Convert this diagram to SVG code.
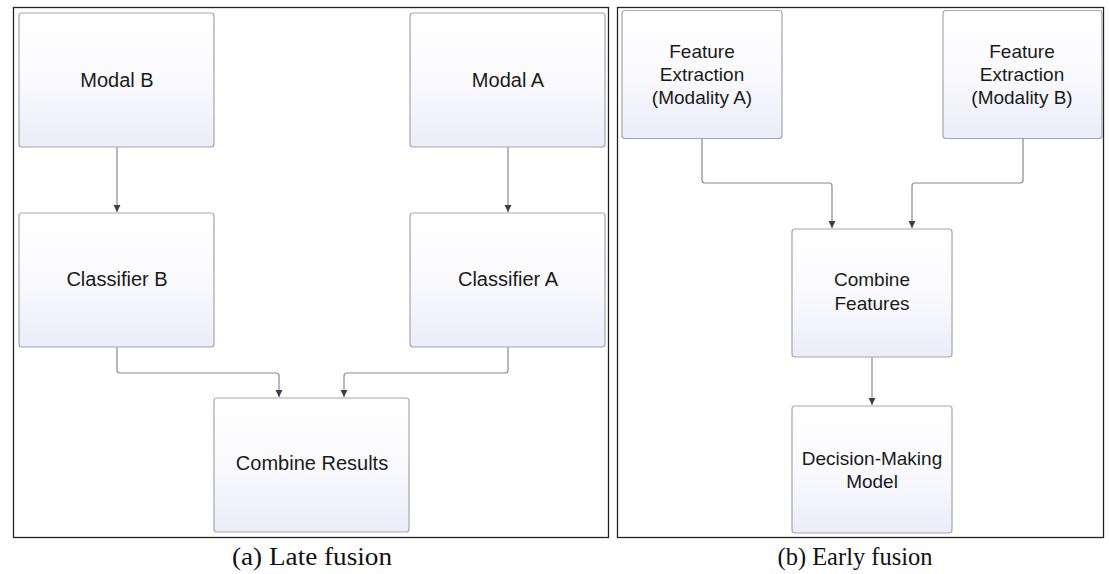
<svg xmlns="http://www.w3.org/2000/svg" width="1109" height="574" viewBox="0 0 1109 574">
<style>
.frame{fill:none;stroke:#222;stroke-width:1.3}
.box{fill:url(#g);stroke:#a6a6aa;stroke-width:1.2}
.t{font-family:"Liberation Sans",Arial,sans-serif;font-size:20px;fill:#1a1a1a;text-anchor:middle}
.s{font-size:19px}
.cap{font-family:"Liberation Serif","Times New Roman",serif;font-size:25px;fill:#111;text-anchor:middle}
.c{fill:none;stroke:#8a8a8a;stroke-width:1.2;marker-end:url(#ah)}
</style>
<defs>
<linearGradient id="g" x1="0" y1="0" x2="0" y2="1">
<stop offset="0" stop-color="#ffffff"/>
<stop offset="0.45" stop-color="#fbfbfe"/>
<stop offset="1" stop-color="#ececfa"/>
</linearGradient>
<marker id="ah" markerWidth="8" markerHeight="9" refX="7" refY="4.5" orient="auto" markerUnits="userSpaceOnUse">
<path d="M0,1 L7,4.5 L0,8 Z" fill="#3a3f4a"/>
</marker>
</defs>
<rect class="frame" x="13.5" y="7.5" width="595" height="530"/>
<rect class="frame" x="617.5" y="7.5" width="486" height="530"/>
<g id="connectors">
<path class="c" d="M117,147 V212"/>
<path class="c" d="M508,147 V212"/>
<path class="c" d="M117,347 V370 Q117,373 120,373 H276 Q279,373 279,376 V397"/>
<path class="c" d="M508,347 V370 Q508,373 505,373 H347 Q344,373 344,376 V397"/>
<path class="c" d="M702,138 V180 Q702,183 705,183 H829 Q832,183 832,186 V228"/>
<path class="c" d="M1023,138 V180 Q1023,183 1020,183 H915 Q912,183 912,186 V228"/>
<path class="c" d="M872,357 V405"/>
</g>
<g id="modal-b"><rect class="box" x="19" y="13" width="195" height="134" rx="3"/><text class="t" x="117" y="87">Modal B</text></g>
<g id="modal-a"><rect class="box" x="410" y="13" width="195" height="134" rx="3"/><text class="t" x="508" y="87">Modal A</text></g>
<g id="classifier-b"><rect class="box" x="19" y="213" width="195" height="134" rx="3"/><text class="t" x="117" y="286">Classifier B</text></g>
<g id="classifier-a"><rect class="box" x="410" y="213" width="195" height="134" rx="3"/><text class="t" x="508" y="286">Classifier A</text></g>
<g id="combine-results"><rect class="box" x="214" y="398" width="195" height="134" rx="3"/><text class="t" x="312" y="470">Combine Results</text></g>
<g id="fe-a"><rect class="box" x="622" y="10.5" width="160" height="128" rx="3"/><text class="t s" x="702"><tspan x="702" y="58">Feature</tspan><tspan x="702" y="81">Extraction</tspan><tspan x="702" y="104">(Modality A)</tspan></text></g>
<g id="fe-b"><rect class="box" x="943" y="10.5" width="159" height="128" rx="3"/><text class="t s" x="1022"><tspan x="1022" y="58">Feature</tspan><tspan x="1022" y="81">Extraction</tspan><tspan x="1022" y="104">(Modality B)</tspan></text></g>
<g id="combine-features"><rect class="box" x="792" y="229" width="160" height="128" rx="3"/><text class="t s" x="872"><tspan x="872" y="286">Combine</tspan><tspan x="872" y="310">Features</tspan></text></g>
<g id="decision"><rect class="box" x="792" y="406" width="160" height="127" rx="3"/><text class="t s" x="872"><tspan x="872" y="465">Decision-Making</tspan><tspan x="872" y="488">Model</tspan></text></g>
<text class="cap" x="312" y="565" textLength="160" lengthAdjust="spacingAndGlyphs">(a) Late fusion</text>
<text class="cap" x="855" y="565" textLength="155" lengthAdjust="spacingAndGlyphs">(b) Early fusion</text>
</svg>
